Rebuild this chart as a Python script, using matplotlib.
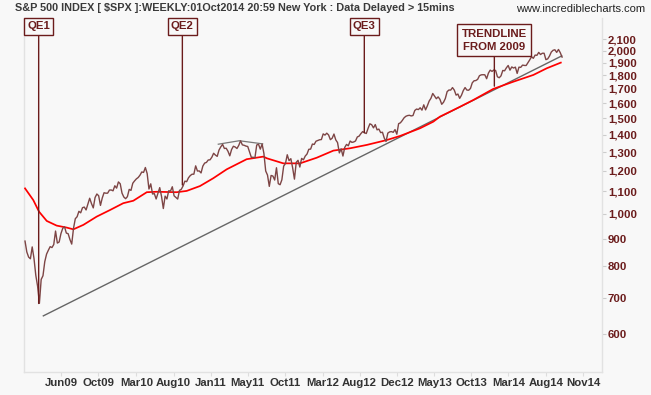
import numpy as np
import matplotlib
matplotlib.use("Agg")
import matplotlib.pyplot as plt
from matplotlib.ticker import FixedLocator, NullLocator

# ---------------- data ----------------
# Weekly closes of the S&P 500, week ending 9 Jan 2009 ... 1 Oct 2014 (partial week)
spx_2009 = [890.35, 850.12, 831.95, 825.88, 868.60, 826.84, 770.05, 735.09, 683.38, 756.55,
            768.54, 815.94, 842.50, 856.56, 869.60, 866.23, 877.52, 929.23, 882.88, 887.00,
            919.14, 940.09, 946.21, 921.23, 918.90, 896.42, 879.13, 940.38, 979.26, 987.48,
            1010.48, 1004.09, 1026.13, 1028.93, 1016.40, 1042.73, 1068.30, 1044.38, 1025.21, 1071.49,
            1087.68, 1079.60, 1036.19, 1069.30, 1093.48, 1091.38, 1091.49, 1105.98, 1106.41, 1102.47,
            1126.48, 1115.10]
spx_2010 = [1144.98, 1136.03, 1091.76, 1073.87, 1066.19, 1075.51, 1109.17, 1104.49, 1138.70, 1149.99,
            1159.90, 1166.59, 1178.10, 1194.37, 1192.13, 1217.28, 1186.69, 1110.88, 1135.68, 1087.69,
            1089.41, 1064.88, 1091.60, 1117.51, 1076.76, 1022.58, 1077.96, 1064.88, 1102.66, 1101.60,
            1121.64, 1079.25, 1071.69, 1064.59, 1104.51, 1109.55, 1125.59, 1148.67, 1146.24, 1165.15,
            1176.19, 1183.08, 1183.26, 1225.85, 1199.21, 1199.73, 1189.40, 1224.71, 1240.40, 1243.91,
            1256.77, 1257.64]
spx_2011 = [1271.50, 1293.24, 1283.35, 1276.34, 1310.87, 1329.15, 1343.01, 1319.88, 1321.15, 1304.28,
            1279.20, 1313.80, 1332.41, 1328.17, 1319.68, 1337.38, 1363.61, 1340.20, 1337.77, 1333.27,
            1331.10, 1300.16, 1270.98, 1271.50, 1268.45, 1339.67, 1343.80, 1316.14, 1345.02, 1292.28,
            1199.38, 1178.81, 1123.53, 1176.80, 1173.97, 1154.23, 1216.01, 1136.43, 1131.42, 1155.46,
            1224.58, 1238.25, 1285.09, 1253.23, 1263.85, 1215.65, 1158.67, 1244.28, 1255.19, 1219.66,
            1265.33, 1257.60]
spx_2012 = [1277.81, 1289.09, 1315.38, 1316.33, 1344.90, 1342.64, 1361.23, 1365.74, 1369.63, 1370.87,
            1404.17, 1397.11, 1408.47, 1398.08, 1370.26, 1378.53, 1403.36, 1369.10, 1353.39, 1295.22,
            1317.82, 1278.04, 1325.66, 1342.84, 1335.02, 1362.16, 1354.68, 1356.78, 1362.66, 1385.97,
            1390.99, 1405.87, 1418.16, 1411.13, 1406.58, 1437.92, 1465.77, 1460.15, 1440.67, 1460.93,
            1428.59, 1433.19, 1411.94, 1414.20, 1379.85, 1359.88, 1409.15, 1416.18, 1418.07, 1413.58,
            1430.15, 1402.43]
spx_2013 = [1466.47, 1472.05, 1485.98, 1502.96, 1513.17, 1517.93, 1519.79, 1515.60, 1518.20, 1551.18,
            1560.70, 1556.89, 1569.19, 1553.28, 1588.85, 1555.25, 1582.24, 1614.42, 1633.70, 1667.47,
            1649.60, 1630.74, 1643.38, 1626.73, 1592.43, 1606.28, 1631.89, 1680.19, 1692.09, 1691.65,
            1709.67, 1691.42, 1655.83, 1663.50, 1632.97, 1655.17, 1687.99, 1709.91, 1691.75, 1690.50,
            1703.20, 1744.50, 1759.77, 1761.64, 1770.61, 1798.18, 1804.76, 1805.81, 1805.09, 1775.32,
            1818.32, 1841.40]
spx_2014 = [1831.37, 1842.37, 1838.70, 1790.29, 1782.59, 1797.02, 1838.63, 1836.25, 1859.45, 1878.04,
            1841.13, 1866.52, 1857.62, 1865.09, 1815.69, 1864.85, 1863.40, 1881.14, 1878.48, 1877.86,
            1900.53, 1923.57, 1949.44, 1936.16, 1962.87, 1960.96, 1985.44, 1967.57, 1978.22, 1978.34,
            1925.15, 1931.59, 1955.06, 1988.40, 2003.37, 2007.71, 1985.54, 2010.40, 1982.85, 1946.16]

# Red moving-average line (week index, value)
ma_week = [0, 4.6, 7.8, 12.1, 17.6, 23.2, 26.9, 32.5, 39.9, 47.3, 54.7, 60.3, 67.8, 73.3, 84.5,
           90.0, 97.4, 104.8, 112.3, 123.4, 132.7, 134.6, 143.8, 153.1, 162.4, 171.7, 181.0,
           190.3, 201.4, 208.8, 219.9, 227.3, 231.0, 236.6, 242.2, 249.6, 260.7, 271.9, 283.0,
           290.5, 298.3]
ma_value = [1114, 1060, 1009, 970, 951, 943, 936, 954, 988, 1016, 1046, 1057, 1096, 1098, 1096,
            1102, 1125, 1163, 1208, 1261, 1275, 1266, 1239, 1239, 1269, 1308, 1321,
            1340, 1368, 1392, 1438, 1479, 1511, 1543, 1576, 1622, 1700, 1753, 1804,
            1856, 1901]

# Trendline from the 2009 low, and the 2011 triple-top line (week index, value)
trend_week = [10.2, 298.8]
trend_value = [648, 1956]
top_week = [107.6, 119.3, 132.3]
top_value = [1344, 1364, 1346]

# Annotations: (label, week index, value pointed at)
notes = [("QE1", 7.6, 683), ("QE2", 87.6, 1130), ("QE3", 188.9, 1411)]
trend_note = ("TRENDLINE\nFROM 2009", 261.3, 1720)

x_tick_week = [20.2, 40.8, 62.0, 82.7, 103.3, 123.9, 145.0, 165.8, 186.3, 207.3,
               227.9, 248.5, 269.1, 290.2, 310.8]
x_tick_labels = ["Jun09", "Oct09", "Mar10", "Aug10", "Jan11", "May11", "Oct11", "Mar12",
                 "Aug12", "Dec12", "May13", "Oct13", "Mar14", "Aug14", "Nov14"]
y_ticks = [600, 700, 800, 900, 1000, 1100, 1200, 1300, 1400, 1500, 1600, 1700, 1800,
           1900, 2000, 2100]

title = "S&P 500 INDEX [ $SPX ]:WEEKLY:01Oct2014 20:59 New York : Data Delayed > 15mins"
site = "www.incrediblecharts.com"

# ---------------- drawing ----------------
spx = spx_2009 + spx_2010 + spx_2011 + spx_2012 + spx_2013 + spx_2014
weeks = np.arange(len(spx))

BG = "#f8f8f8"
MAROON = "#6b1c1c"
FONT = "Liberation Sans"

W, H = 651, 395
fig = plt.figure(figsize=(W / 100, H / 100), dpi=100, facecolor=BG)
ax = fig.add_axes([24.3 / W, 1 - 372.3 / H, (602.3 - 24.3) / W, (372.3 - 18) / H], facecolor=BG)

ax.set_yscale("log")
ax.set_ylim(509.8, 2298)
ax.set_xlim(-0.4, 321.4)

ax.plot(trend_week, trend_value, color="#666666", lw=1.0, zorder=2)
ax.plot(top_week, top_value, color="#777777", lw=0.9, zorder=2)
ax.plot(ma_week, ma_value, color="#ff0000", lw=1.25, zorder=3)
ax.plot(weeks, spx, color="#7d4545", lw=1.0, zorder=4)

box = dict(boxstyle="square,pad=0.28", fc=BG, ec=MAROON, lw=1.0)
for label, wk, val in notes:
    ax.annotate(label, xy=(wk, val), xytext=(wk, 2217), textcoords="data",
                ha="center", va="center", fontsize=8.2, fontweight="bold",
                family=FONT, color=MAROON, bbox=box, zorder=6,
                arrowprops=dict(arrowstyle="-", color=MAROON, lw=1.0,
                                shrinkA=0, shrinkB=0))
ax.annotate(trend_note[0], xy=(trend_note[1], trend_note[2]), xytext=(trend_note[1], 2090),
            textcoords="data", ha="center", va="center", fontsize=8.2, fontweight="bold",
            family=FONT, color=MAROON, linespacing=1.4,
            bbox=dict(boxstyle="square,pad=0.38", fc=BG, ec=MAROON, lw=1.0), zorder=6,
            arrowprops=dict(arrowstyle="-", color=MAROON, lw=1.0, shrinkA=0, shrinkB=0))

ax.spines["top"].set_visible(False)
for s in ("left", "bottom", "right"):
    ax.spines[s].set_color("#e2e2e2")
    ax.spines[s].set_linewidth(1.0)

ax.xaxis.set_major_locator(FixedLocator(x_tick_week))
ax.set_xticklabels(x_tick_labels)
ax.xaxis.set_minor_locator(NullLocator())
ax.tick_params(axis="x", length=3, color="#dddddd", pad=1.4, labelsize=8.2,
               labelcolor="#333333")

ax.yaxis.tick_right()
ax.yaxis.set_major_locator(FixedLocator(y_ticks))
ax.yaxis.set_minor_locator(NullLocator())
ax.set_yticklabels([f"{v:,}" for v in y_ticks])
ax.tick_params(axis="y", which="both", left=False, right=True, length=3.2,
               color="#cccccc", pad=0.8, labelsize=8.2, labelcolor=MAROON)
for lab in ax.get_xticklabels() + ax.get_yticklabels():
    lab.set_fontweight("bold")
    lab.set_family(FONT)

fig.text(15 / W, 1 - 8 / H, title, ha="left", va="center", fontsize=7.85,
         fontweight="bold", family=FONT, color="#3a3a3a")
fig.text(645 / W, 1 - 9 / H, site, ha="right", va="center", fontsize=8.0,
         family=FONT, color="#222222")

fig.savefig("out.png", dpi=100, facecolor=BG)
